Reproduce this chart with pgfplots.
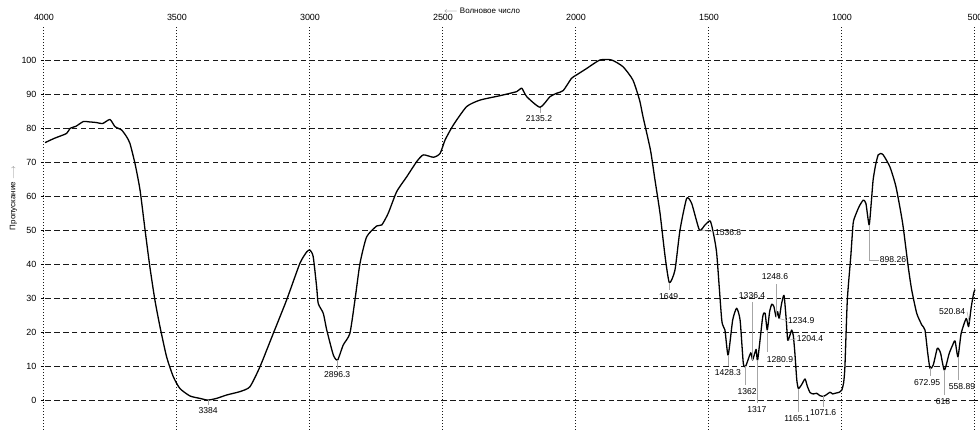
\documentclass[border=0pt]{standalone}
\usepackage{pgfplots}
\pgfplotsset{compat=1.18}
\usepackage{fontspec}
\setmainfont{Liberation Sans}
\begin{document}
\begin{tikzpicture}
\begin{axis}[
  width=931bp, height=403bp, scale only axis,
  x dir=reverse, xmin=500, xmax=4000, ymin=-8.8, ymax=109.7,
  xtick={500,1000,1500,2000,2500,3000,3500,4000},
  ytick={0,10,20,30,40,50,60,70,80,90,100},
  xticklabel pos=right,
  grid=major,
  x grid style={black!90, line width=1bp, dash pattern=on 1.3bp off 1.7bp},
  y grid style={black!90, line width=0.9bp, dash pattern=on 5.5bp off 3.3bp},
  axis line style={draw=none},
  xtick style={draw=none},
  ytick style={black, line width=0.9bp},
  major tick length=3bp, tick align=outside,
  ticklabel style={font=\fontsize{9}{10}\selectfont, text=black},
  yticklabel style={xshift=-1bp},
  /pgf/number format/assume math mode=true,
  /pgf/number format/set thousands separator={},
  clip=false,
]
\addplot[line width=1.3bp, black, line join=round, smooth, tension=0.35] coordinates {
(3996,75.7)(3960,77)(3915,78.4)(3902,79.9)(3880,80.5)(3852,81.9)(3830,81.8)(3802,81.6)(3780,81.3)(3752,82.5)(3733,80.4)(3708,79.4)(3690,77.5)(3677,75.5)(3658,69.6)(3639,61.8)(3620,50)(3602,39.2)(3583,29.4)(3564,21.6)(3539,12.7)(3514,6.9)(3489,3.4)(3451,1.2)(3414,0.5)(3384,0)(3351,0.5)(3313,1.5)(3263,2.5)(3226,3.9)(3188,9.8)(3138,19.6)(3088,29.4)(3038,40.2)(3012,43.6)(3000,44.1)(2988,42.2)(2975,33.3)(2969,28.4)(2950,25.5)(2937,20.6)(2912,13.2)(2896,11.8)(2875,16.2)(2850,19.6)(2831,29.4)(2812,40.2)(2787,48)(2749,51.2)(2730,51.5)(2706,54.9)(2674,61.3)(2636,65.7)(2599,70.1)(2574,72.1)(2536,71.4)(2511,72.5)(2492,76.5)(2461,80.9)(2411,86.3)(2361,88.2)(2286,89.5)(2223,90.7)(2204,91.7)(2185,89.2)(2135,86.1)(2098,89.2)(2073,90.2)(2048,91)(2017,94.6)(1998,95.6)(1960,97.5)(1910,100)(1866,100)(1823,98)(1786,94.1)(1761,88.2)(1748,83.3)(1720,73.5)(1703,64.7)(1684,54.9)(1665,42.2)(1649,34.5)(1628,38.2)(1609,50)(1584,59.3)(1565,57.8)(1536,50)(1515,51.5)(1496,52.7)(1486,50)(1471,43.1)(1452,23.5)(1440,20.6)(1428,13.2)(1411,23.5)(1396,27)(1383,23.5)(1371,10.8)(1362,10)(1343,13.9)(1336,11.8)(1323,14.9)(1317,11.8)(1298,24.5)(1289,25.5)(1281,20.6)(1272,26)(1264,28.2)(1256,27.5)(1248,24.5)(1242,26)(1236,24)(1228,28)(1218,30.8)(1210,24)(1204,17.6)(1196,19)(1189,20.6)(1183,19)(1177,13.7)(1170,6)(1164,3.4)(1152,4.5)(1139,6.2)(1130,4)(1120,2.2)(1108,1.8)(1095,2)(1083,1.3)(1070,1.1)(1058,1.6)(1045,2.3)(1035,1.8)(1026,2)(1010,2.3)(1001,2.9)(994,5)(989,9.8)(980,29.4)(967,42.2)(958,52)(949,54.4)(935,57)(920,58.8)(910,57.8)(898,51.5)(890,58)(883,64.7)(874,69)(864,72.1)(855,72.5)(845,72.1)(820,68.6)(797,62.7)(772,52)(751,39.2)(738,32.4)(719,25.5)(700,22.1)(688,20.6)(678,14)(669,9.3)(657,10.3)(642,15.2)(635,14.8)(629,13.7)(615,8.8)(597,13.7)(585,16)(575,17.4)(564,12.7)(552,19.6)(533,24)(524,21.6)(514,27.4)(505,31.4)(500,32.5)
};
% leader lines
\begin{scope}[gray!70, line width=0.5bp]
\draw (axis cs:3384,0) -- (axis cs:3384,-1.5);
\draw (axis cs:2896,11.8) -- (axis cs:2896,9);
\draw (axis cs:2135,86) -- (axis cs:2135,84.5);
\draw (axis cs:1649,34.5) -- (axis cs:1649,32.3);
\draw (axis cs:1536,50) -- (axis cs:1480,49.4);
\draw (axis cs:1248,24.5) -- (axis cs:1248,34);
\draw (axis cs:1336,11.8) -- (axis cs:1336,28.8);
\draw (axis cs:1236,24) -- (axis cs:1205,23.3);
\draw (axis cs:1204,17.6) -- (axis cs:1172,18);
\draw (axis cs:1281,20.6) -- (axis cs:1281,14);
\draw (axis cs:1428,13.2) -- (axis cs:1428,10);
\draw (axis cs:1362,10) -- (axis cs:1362,4.3);
\draw (axis cs:1317,11.8) -- (axis cs:1317,-1);
\draw (axis cs:1165,3.4) -- (axis cs:1165,-3.5);
\draw (axis cs:1071,1.1) -- (axis cs:1071,-2);
\draw (axis cs:898,51.5) -- (axis cs:898,41.2) -- (axis cs:860,41.2);
\draw (axis cs:670,9.3) -- (axis cs:670,7);
\draw (axis cs:615,8.8) -- (axis cs:615,1.5);
\draw (axis cs:562,12.7) -- (axis cs:562,5.8);
\draw (axis cs:530,26) -- (axis cs:522,23);
\end{scope}
% peak labels
\begin{scope}[every node/.style={font=\fontsize{8.6}{9}\selectfont, text=black, inner sep=0.5bp}]
\node at (axis cs:3383,-3.1) {3384};
\node at (axis cs:2898,7.4) {2896.3};
\node at (axis cs:2139,82.8) {2135.2};
\node at (axis cs:1647,30.4) {1649.};
\node[anchor=west] at (axis cs:1480,49.2) {1536.8};
\node at (axis cs:1252,36.2) {1248.6};
\node at (axis cs:1338,30.7) {1336.4};
\node[anchor=west] at (axis cs:1205,23.3) {1234.9};
\node[anchor=west] at (axis cs:1172,18) {1204.4};
\node at (axis cs:1233,12) {1280.9};
\node at (axis cs:1429,8) {1428.3};
\node at (axis cs:1357,2.4) {1362};
\node at (axis cs:1320,-2.9) {1317};
\node at (axis cs:1169,-5.4) {1165.1};
\node at (axis cs:1071,-3.8) {1071.6};
\node[anchor=west] at (axis cs:860,41.2) {898.26};
\node at (axis cs:680,5.1) {672.95};
\node at (axis cs:620,-0.3) {618};
\node at (axis cs:549,3.9) {558.89};
\node at (axis cs:586,26) {520.84};
\end{scope}
\node[font=\fontsize{8}{9}\selectfont, text=black] at (axis cs:2353,114.6) {{\color{gray}$\longleftarrow$} Волновое число};
\node[font=\fontsize{8}{9}\selectfont, text=black, rotate=90] at (axis cs:4115,59.4) {Пропускание {\color{gray}$\longrightarrow$}};
\end{axis}
\pgfresetboundingbox
\path ([xshift=-44bp]current axis.south west) rectangle ([xshift=5bp,yshift=27bp]current axis.north east);
\end{tikzpicture}
\end{document}
